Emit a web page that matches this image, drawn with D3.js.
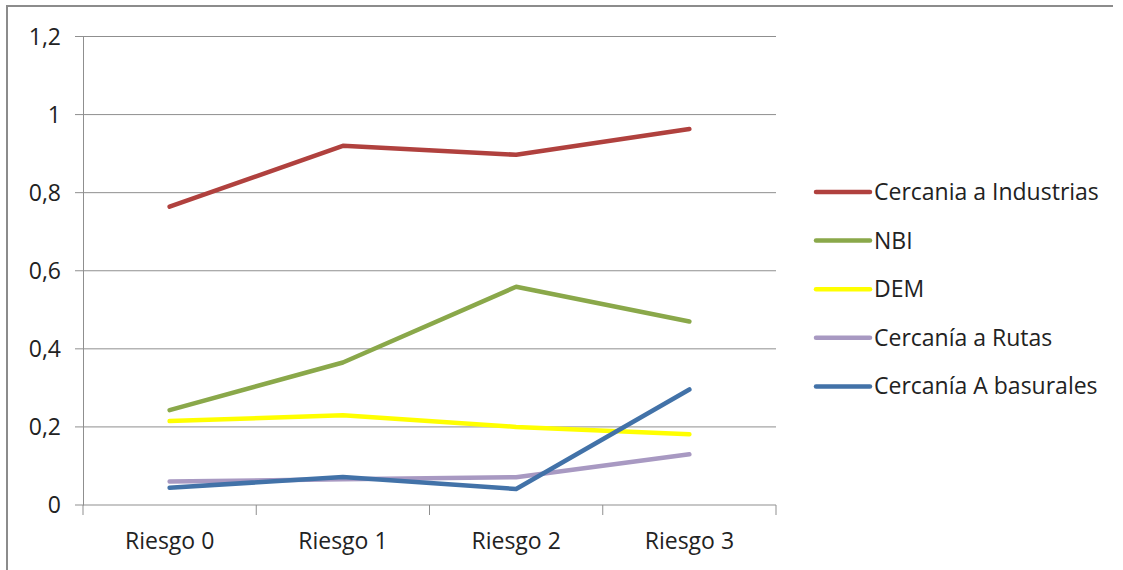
<!DOCTYPE html>
<html>
<head>
<meta charset="utf-8">
<script src="https://cdn.jsdelivr.net/npm/d3@7"></script>
<style>
  body { margin: 0; background: #fff; }
  text { font-family: "Open Sans", sans-serif; fill: #222; }
</style>
</head>
<body>
<svg id="chart"></svg>
<script>
const width = 1123;
const height = 570;

const categories = ['Riesgo 0', 'Riesgo 1', 'Riesgo 2', 'Riesgo 3'];
const yTicks = [0, 0.2, 0.4, 0.6, 0.8, 1, 1.2];

const seriesNames = ['Cercania a Industrias', 'NBI', 'DEM', 'Cercanía a Rutas', 'Cercanía A basurales'];
const seriesColors = ['#b0413e', '#8aa84a', '#ffff00', '#a899c2', '#4272a8'];
const industrias = [0.764, 0.920, 0.897, 0.963];
const nbi = [0.243, 0.365, 0.559, 0.470];
const dem = [0.215, 0.230, 0.200, 0.181];
const rutas = [0.060, 0.066, 0.071, 0.130];
const basurales = [0.044, 0.072, 0.041, 0.296];

const series = [industrias, nbi, dem, rutas, basurales];

const svg = d3.select('#chart')
            .attr('width', width)
            .attr('height', height);

// outer frame (top and left edge only visible)
svg.append('line').attr('x1', 6).attr('x2', 1113).attr('y1', 6).attr('y2', 6)
    .attr('stroke', '#8c8c8c').attr('stroke-width', 2);
svg.append('line').attr('x1', 7).attr('x2', 7).attr('y1', 6).attr('y2', height)
    .attr('stroke', '#8c8c8c').attr('stroke-width', 2);

const x = d3.scaleBand().domain(categories).range([83, 776]);
const y = d3.scaleLinear().domain([0, 1.2]).range([505, 36.5]);

// gridlines
svg.append('g')
    .selectAll('line')
    .data(yTicks)
    .enter()
    .append('line')
    .attr('x1', 75)
    .attr('x2', 776)
    .attr('y1', d => y(d))
    .attr('y2', d => y(d))
    .attr('stroke', '#8f8f8f')
    .attr('stroke-width', 1);

// y axis
const yAxis = svg.append('g')
    .attr('transform', 'translate(83,0)')
    .call(d3.axisLeft(y).tickValues(yTicks).tickSize(0).tickPadding(22)
        .tickFormat(d => String(d).replace('.', ',')));
yAxis.select('.domain').attr('stroke', '#8f8f8f');
yAxis.selectAll('text').style('font-size', '23px').attr('fill', '#222').attr('dy', '0.34em');

// x axis
const xAxis = svg.append('g')
    .attr('transform', 'translate(0,505)')
    .call(d3.axisBottom(x).tickSize(0).tickPadding(28));
xAxis.select('.domain').remove();
xAxis.selectAll('text').style('font-size', '23px').attr('fill', '#222');
svg.append('g')
    .selectAll('line')
    .data([83, ...categories.map(c => x(c) + x.bandwidth())])
    .enter()
    .append('line')
    .attr('x1', d => d).attr('x2', d => d)
    .attr('y1', 505).attr('y2', 515)
    .attr('stroke', '#8f8f8f');

// lines
const line = d3.line()
    .x((d, i) => x(categories[i]) + x.bandwidth() / 2)
    .y(d => y(d));

svg.append('g')
    .selectAll('path')
    .data(series)
    .enter()
    .append('path')
    .attr('d', d => line(d))
    .attr('fill', 'none')
    .attr('stroke', (d, i) => seriesColors[i])
    .attr('stroke-width', 4.5)
    .attr('stroke-linecap', 'round')
    .attr('stroke-linejoin', 'round');

// legend
const legend = svg.append('g')
    .selectAll('g')
    .data(seriesNames)
    .enter()
    .append('g')
    .attr('transform', (d, i) => `translate(816, ${192 + i * 48.6})`);

legend.append('line')
    .attr('x1', 0).attr('x2', 54)
    .attr('stroke', (d, i) => seriesColors[i])
    .attr('stroke-width', 4.5)
    .attr('stroke-linecap', 'round');

legend.append('text')
    .attr('x', 58)
    .attr('dy', '0.35em')
    .style('font-size', '23px')
    .text(d => d);
</script>
</body>
</html>
